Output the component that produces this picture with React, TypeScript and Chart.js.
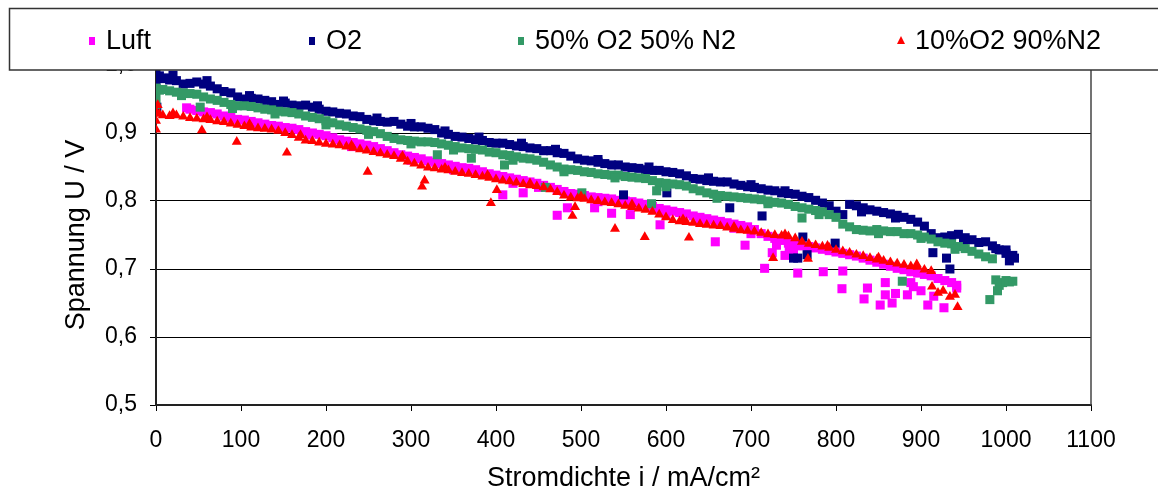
import React, { useEffect, useRef } from 'react';
import { Chart, registerables } from 'chart.js';

Chart.register(...registerables);

const FONT = '"Liberation Sans", Arial, Helvetica, sans-serif';

const seriesNames = ['Luft', 'O2', '50% O2 50% N2', '10%O2 90%N2'];
const seriesColors = ['#FF00FF', '#000080', '#339966', '#FF0000'];

const xAxisTitle = 'Stromdichte i / mA/cm²';
const yAxisTitle = 'Spannung U / V';
const xMin = 0;
const xMax = 1100;
const xStep = 100;
const yMin = 0.5;
const yMax = 1.0;
const yStep = 0.1;

// Luft: [current density mA/cm², voltage V]
const luftPoints: [number, number][] = [
  [36,0.937],[40,0.935],[48,0.933],[56,0.931],[64,0.930],[72,0.928],[80,0.925],[88,0.923],[96,0.920],[104,0.919],
  [112,0.917],[120,0.915],[128,0.913],[136,0.911],[144,0.910],[152,0.908],[160,0.907],[168,0.905],[176,0.902],[184,0.900],
  [192,0.898],[200,0.896],[208,0.893],[216,0.890],[224,0.888],[232,0.886],[240,0.884],[248,0.882],[256,0.880],[264,0.877],
  [272,0.874],[280,0.871],[288,0.868],[296,0.866],[304,0.864],[312,0.862],[320,0.859],[328,0.857],[336,0.855],[344,0.853],
  [352,0.851],[360,0.849],[368,0.848],[376,0.846],[384,0.843],[392,0.840],[400,0.838],[408,0.836],[416,0.834],[424,0.832],
  [432,0.830],[440,0.828],[448,0.826],[456,0.823],[464,0.820],[472,0.817],[480,0.814],[488,0.811],[496,0.810],[504,0.808],
  [512,0.806],[520,0.805],[528,0.804],[536,0.803],[544,0.801],[552,0.800],[560,0.799],[568,0.797],[576,0.795],[584,0.792],
  [592,0.789],[600,0.787],[608,0.785],[616,0.783],[624,0.781],[632,0.778],[640,0.776],[648,0.774],[656,0.772],[664,0.770],
  [672,0.768],[680,0.766],[688,0.764],[696,0.762],[704,0.758],[712,0.752],[720,0.748],[728,0.745],[736,0.742],[744,0.738],
  [752,0.736],[760,0.734],[768,0.733],[776,0.731],[784,0.729],[792,0.727],[800,0.725],[808,0.723],[816,0.721],[824,0.719],
  [832,0.716],[840,0.713],[848,0.710],[856,0.707],[864,0.704],[872,0.701],[880,0.699],[888,0.696],[896,0.694],[904,0.692],
  [912,0.690],[920,0.686],[928,0.683],[936,0.680],[942,0.676],
  [60,0.925],[120,0.910],[180,0.897],[230,0.880],[300,0.860],[350,0.846],[420,0.826],[450,0.820],[520,0.799],[600,0.780],
  [640,0.770],[680,0.760],[700,0.752],[730,0.735],[745,0.728],
  [408,0.809],[432,0.812],[472,0.779],[484,0.790],[516,0.790],[536,0.782],[558,0.780],[593,0.765],[658,0.740],[693,0.735],
  [716,0.701],[725,0.724],[740,0.720],[750,0.725],[755,0.694],[785,0.696],[808,0.697],[807,0.671],[837,0.672],[833,0.656],
  [852,0.647],[858,0.662],[870,0.664],[866,0.650],[884,0.662],[908,0.647],[927,0.643],[942,0.672],[858,0.680],[888,0.680],
  [900,0.668],[915,0.660],[891,0.674]
];

// O2
const o2Points: [number, number][] = [
  [0,0.990],[0,0.975],[1,0.938],[4,0.984],[8,0.980],[12,0.981],[16,0.978],[24,0.977],[32,0.972],[40,0.973],
  [48,0.975],[56,0.972],[64,0.969],[72,0.965],[80,0.961],[88,0.959],[96,0.953],[104,0.950],[112,0.951],[120,0.950],
  [128,0.948],[136,0.946],[144,0.942],[152,0.944],[160,0.941],[168,0.940],[176,0.941],[184,0.938],[192,0.935],[200,0.932],
  [208,0.931],[216,0.929],[224,0.928],[232,0.925],[240,0.924],[248,0.920],[256,0.918],[264,0.917],[272,0.916],[280,0.917],
  [288,0.913],[296,0.910],[304,0.909],[312,0.909],[320,0.907],[328,0.905],[336,0.900],[344,0.898],[352,0.895],[360,0.894],
  [368,0.892],[376,0.890],[384,0.889],[392,0.886],[400,0.885],[408,0.885],[416,0.883],[424,0.881],[432,0.880],[440,0.878],
  [448,0.877],[456,0.874],[464,0.874],[472,0.871],[480,0.870],[488,0.866],[496,0.862],[504,0.860],[512,0.859],[520,0.857],
  [528,0.855],[536,0.853],[544,0.853],[552,0.850],[560,0.849],[568,0.848],[576,0.846],[584,0.845],[592,0.845],[600,0.843],
  [608,0.842],[616,0.840],[624,0.837],[632,0.833],[640,0.832],[648,0.830],[656,0.829],[664,0.828],[672,0.828],[680,0.825],
  [688,0.823],[696,0.821],[704,0.820],[712,0.818],[720,0.816],[728,0.815],[736,0.812],[744,0.811],[752,0.810],[760,0.807],
  [768,0.805],[776,0.801],[784,0.797],[792,0.793],[800,0.785],[808,0.780],[816,0.795],[824,0.793],[832,0.790],[840,0.787],
  [848,0.785],[856,0.783],[864,0.781],[872,0.779],[880,0.776],[888,0.773],[896,0.769],[904,0.763],[912,0.752],[920,0.746],
  [928,0.747],[936,0.749],[944,0.751],[952,0.746],[960,0.743],[968,0.739],[976,0.740],[984,0.734],[992,0.728],[1000,0.723],
  [1008,0.720],
  [20,0.985],[60,0.977],[110,0.955],[150,0.947],[190,0.940],[260,0.922],[300,0.914],[340,0.903],[380,0.894],[430,0.885],
  [470,0.876],[520,0.861],[580,0.850],[650,0.834],[700,0.824],[740,0.815],[830,0.784],[870,0.775],[950,0.740],[1000,0.728],
  [550,0.809],[601,0.812],[675,0.790],[713,0.778],[750,0.716],[755,0.716],[761,0.747],[766,0.721],[799,0.738],[914,0.724],
  [930,0.716],[934,0.700],[1004,0.712],[1010,0.716],[988,0.730]
];

// 50% O2 50% N2
const mixPoints: [number, number][] = [
  [0,0.966],[0,0.955],[0,0.942],[4,0.963],[8,0.964],[16,0.962],[24,0.960],[32,0.959],[40,0.958],[48,0.957],
  [52,0.938],[56,0.953],[64,0.950],[72,0.948],[80,0.945],[88,0.942],[96,0.940],[104,0.940],[112,0.939],[120,0.937],
  [128,0.935],[136,0.934],[144,0.932],[152,0.931],[160,0.930],[168,0.928],[176,0.925],[184,0.923],[192,0.921],[200,0.918],
  [208,0.915],[216,0.912],[224,0.910],[232,0.908],[240,0.906],[248,0.904],[256,0.902],[264,0.899],[272,0.895],[280,0.892],
  [288,0.890],[296,0.889],[304,0.888],[312,0.887],[320,0.887],[328,0.886],[336,0.884],[344,0.882],[352,0.880],[360,0.878],
  [368,0.877],[376,0.876],[384,0.875],[392,0.872],[400,0.871],[408,0.868],[416,0.867],[424,0.865],[432,0.863],[440,0.862],
  [448,0.860],[456,0.857],[464,0.853],[472,0.850],[480,0.847],[488,0.846],[496,0.845],[504,0.843],[512,0.842],[520,0.840],
  [528,0.839],[536,0.838],[544,0.838],[552,0.836],[560,0.835],[568,0.834],[576,0.833],[584,0.830],[592,0.827],[600,0.826],
  [608,0.825],[616,0.824],[624,0.822],[632,0.818],[640,0.815],[648,0.812],[656,0.810],[664,0.808],[672,0.807],[680,0.806],
  [688,0.805],[696,0.804],[704,0.803],[712,0.802],[720,0.800],[728,0.798],[736,0.797],[744,0.795],[752,0.792],[760,0.790],
  [768,0.788],[776,0.786],[784,0.784],[792,0.780],[800,0.776],[808,0.766],[816,0.762],[824,0.758],[832,0.757],[840,0.756],
  [848,0.758],[856,0.756],[864,0.755],[872,0.755],[880,0.752],[888,0.752],[896,0.750],[904,0.747],[912,0.744],[920,0.740],
  [928,0.738],[936,0.737],[944,0.733],[952,0.730],[960,0.726],[968,0.722],[976,0.718],[984,0.715],
  [30,0.955],[90,0.936],[140,0.928],[200,0.912],[250,0.898],[300,0.884],[350,0.875],[420,0.860],[480,0.843],[540,0.834],
  [600,0.821],[660,0.804],[720,0.796],[780,0.780],[850,0.752],[900,0.745],[940,0.729],
  [988,0.684],[992,0.676],[996,0.680],[1000,0.683],[1004,0.681],[1008,0.682],[990,0.668],[981,0.655],
  [331,0.868],[371,0.863],[410,0.853],[458,0.820],[501,0.812],[589,0.815],[583,0.796],[760,0.775],[878,0.682]
];

// 10%O2 90%N2
const lowO2Points: [number, number][] = [
  [0,0.932],[0,0.918],[0,0.905],[2,0.941],[4,0.928],[8,0.926],[16,0.925],[24,0.926],[32,0.924],[40,0.922],
  [48,0.921],[54,0.904],[56,0.920],[64,0.919],[72,0.917],[80,0.916],[88,0.914],[95,0.887],[96,0.912],[104,0.910],
  [112,0.908],[120,0.907],[128,0.906],[136,0.905],[144,0.903],[152,0.900],[154,0.871],[160,0.897],[168,0.893],[176,0.889],
  [184,0.888],[192,0.886],[200,0.884],[208,0.883],[216,0.882],[224,0.880],[232,0.878],[240,0.876],[248,0.874],[249,0.843],
  [256,0.872],[264,0.870],[272,0.868],[280,0.866],[288,0.862],[296,0.858],[304,0.855],[312,0.852],[313,0.821],[316,0.830],
  [320,0.849],[328,0.848],[336,0.846],[344,0.845],[352,0.843],[360,0.841],[368,0.840],[376,0.838],[384,0.836],[392,0.834],
  [394,0.797],[401,0.816],[400,0.832],[408,0.830],[416,0.829],[424,0.827],[432,0.825],[440,0.823],[448,0.822],[456,0.820],
  [464,0.817],[472,0.813],[480,0.808],[488,0.805],[490,0.778],[493,0.791],[496,0.804],[504,0.803],[512,0.801],[520,0.800],
  [528,0.798],[536,0.797],[540,0.759],[544,0.795],[552,0.793],[560,0.791],[568,0.789],[575,0.747],[576,0.787],[584,0.784],
  [592,0.780],[600,0.776],[608,0.772],[616,0.770],[624,0.769],[627,0.746],[632,0.768],[640,0.766],[648,0.765],[656,0.764],
  [664,0.763],[672,0.761],[680,0.759],[688,0.757],[696,0.756],[704,0.755],[712,0.753],[720,0.751],[726,0.716],[728,0.750],
  [736,0.749],[744,0.748],[752,0.745],[760,0.740],[767,0.715],[768,0.737],[776,0.735],[784,0.733],[792,0.731],[800,0.728],
  [808,0.726],[816,0.724],[824,0.721],[832,0.719],[840,0.716],[848,0.714],[856,0.712],[864,0.710],[872,0.708],[880,0.706],
  [888,0.704],[896,0.703],[904,0.699],[912,0.697],[913,0.674],[920,0.665],[926,0.668],[934,0.659],[940,0.662],[943,0.644],
  [20,0.929],[60,0.923],[110,0.913],[170,0.897],[230,0.882],[290,0.866],[340,0.849],[390,0.838],[440,0.826],[500,0.807],
  [560,0.795],[620,0.773],[680,0.762],[740,0.751],[790,0.734],[850,0.717],[895,0.707]
];

const allSeries = [luftPoints, o2Points, mixPoints, lowO2Points];
const pointStyles = ['rect', 'rect', 'rect', 'triangle'];

const legendItemX = [92, 312, 521, 901];

const plotBorderPlugin = {
  id: 'plotBorder',
  beforeDatasetsDraw(chart: any) {
    const { ctx, chartArea } = chart;
    ctx.save();
    ctx.strokeStyle = '#444';
    ctx.lineWidth = 1.5;
    ctx.beginPath();
    ctx.moveTo(chartArea.right, chartArea.top);
    ctx.lineTo(chartArea.right, chartArea.bottom);
    ctx.stroke();
    ctx.restore();
  },
};

const legendBoxPlugin = {
  id: 'legendBox',
  afterDraw(chart: any) {
    const { ctx } = chart;
    ctx.save();
    ctx.fillStyle = '#fff';
    ctx.fillRect(9, 8, 1160, 62);
    ctx.strokeStyle = '#333';
    ctx.lineWidth = 1.5;
    ctx.beginPath();
    ctx.moveTo(1170, 8.5);
    ctx.lineTo(9.5, 8.5);
    ctx.lineTo(9.5, 70);
    ctx.lineTo(1170, 70);
    ctx.stroke();
    ctx.font = `27px ${FONT}`;
    ctx.textBaseline = 'middle';
    ctx.textAlign = 'left';
    const cy = 41;
    seriesNames.forEach((name, i) => {
      const mx = legendItemX[i];
      ctx.fillStyle = seriesColors[i];
      if (pointStyles[i] === 'triangle') {
        ctx.beginPath();
        ctx.moveTo(mx, cy - 5);
        ctx.lineTo(mx - 4, cy + 3);
        ctx.lineTo(mx + 4, cy + 3);
        ctx.closePath();
        ctx.fill();
      } else {
        ctx.fillRect(mx - 3, cy - 4, 6, 8);
      }
      ctx.fillStyle = '#000';
      ctx.fillText(name, mx + 14, cy + 1);
    });
    ctx.restore();
  },
};

export default function App() {
  const canvasRef = useRef<HTMLCanvasElement | null>(null);

  useEffect(() => {
    const canvas = canvasRef.current;
    if (!canvas) return;
    const datasets = allSeries.map((pts, i) => ({
      label: seriesNames[i],
      data: pts.map(([x, y]) => ({ x, y })),
      backgroundColor: seriesColors[i],
      borderColor: seriesColors[i],
      pointStyle: pointStyles[i] as any,
      pointRadius: pointStyles[i] === 'triangle' ? 5.8 : 6.4,
      pointBorderWidth: 0,
      showLine: false,
      order: 4 - i,
    }));

    const chart = new Chart(canvas, {
      type: 'scatter',
      data: { datasets },
      plugins: [plotBorderPlugin, legendBoxPlugin],
      options: {
        animation: false,
        responsive: false,
        devicePixelRatio: 1,
        layout: { padding: { top: 65, right: 67, left: 0, bottom: 0 } },
        plugins: {
          legend: { display: false },
          tooltip: { enabled: false },
        },
        scales: {
          x: {
            type: 'linear',
            min: xMin,
            max: xMax,
            ticks: {
              stepSize: xStep,
              color: '#000',
              font: { family: FONT, size: 23 },
              padding: 16,
              maxRotation: 0,
              callback: (v: any) => String(Math.round(Number(v))),
            },
            grid: {
              drawOnChartArea: false,
              drawTicks: true,
              tickLength: 6,
              color: '#000',
              lineWidth: 1,
            },
            border: { display: true, color: '#222', width: 2 },
            title: {
              display: true,
              text: xAxisTitle,
              color: '#000',
              font: { family: FONT, size: 27 },
              padding: { top: 0, bottom: 0 },
            },
            afterFit: (s: any) => {
              s.height = 90;
            },
          },
          y: {
            type: 'linear',
            min: yMin,
            max: yMax,
            ticks: {
              stepSize: yStep,
              color: '#000',
              font: { family: FONT, size: 23 },
              padding: 13,
              callback: (v: any) => Number(v).toFixed(1).replace('.', ','),
            },
            grid: {
              color: '#000',
              lineWidth: 1,
              drawTicks: true,
              tickLength: 6,
            },
            border: { display: true, color: '#222', width: 2 },
            title: {
              display: true,
              text: yAxisTitle,
              color: '#000',
              font: { family: FONT, size: 27 },
              padding: { top: 60, bottom: 0 },
            },
            afterFit: (s: any) => {
              s.width = 156;
            },
          },
        },
      },
    });
    return () => chart.destroy();
  }, []);

  return (
    <div style={{ position: 'absolute', left: 0, top: 0, width: 1158, height: 495, background: '#fff' }}>
      <canvas ref={canvasRef} width={1158} height={495} />
    </div>
  );
}
